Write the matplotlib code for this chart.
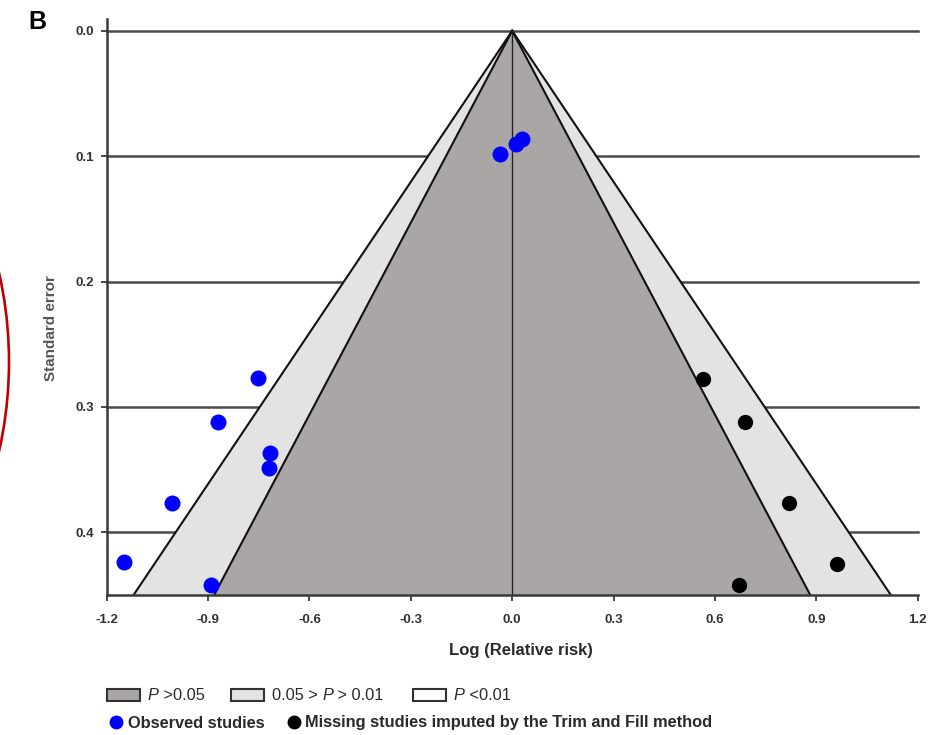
import matplotlib
matplotlib.use('Agg')
import matplotlib.pyplot as plt
from matplotlib.patches import Rectangle, Arc

plt.rcParams['font.family'] = ['Liberation Sans', 'DejaVu Sans']
plt.rcParams['axes.unicode_minus'] = False

# observed studies (log RR, SE)
obs_x = [-0.036, 0.010, 0.028, -0.751, -0.872, -0.717, -0.720, -1.006, -1.148, -0.892]
obs_se = [0.098, 0.090, 0.086, 0.277, 0.312, 0.337, 0.349, 0.377, 0.424, 0.442]
# studies imputed by trim and fill
imp_x = [0.566, 0.689, 0.819, 0.960, 0.671]
imp_se = [0.278, 0.312, 0.377, 0.425, 0.442]

se_max = 0.45
z_inner = 1.96   # P = 0.05 contour
z_outer = 2.49   # P = 0.01 contour
x_ticks = [-1.2, -0.9, -0.6, -0.3, 0.0, 0.3, 0.6, 0.9, 1.2]
y_ticks = [0.0, 0.1, 0.2, 0.3, 0.4]

DARK = '#aaa6a6'
LIGHT = '#e3e3e3'
LINE = '#3a3a3a'
TXT = '#2a2a2a'

W, H = 943, 735
fig = plt.figure(figsize=(W / 100, H / 100), dpi=100)
fig.patch.set_facecolor('white')

# overlay in pixel coordinates for panel letter, labels, legend, red arc
ov = fig.add_axes([0, 0, 1, 1])
ov.set_xlim(0, W)
ov.set_ylim(H, 0)
ov.axis('off')

ax = fig.add_axes([106.7 / W, (H - 595) / H, (917.7 - 106.7) / W, (595 - 19.5) / H])
ax.set_xlim(-1.2, 1.2)
ax.set_ylim(se_max, -0.009)

# horizontal grid lines
for yv in y_ticks:
    ax.plot([-1.2, 1.2], [yv, yv], color='#4a4a4a', lw=1.8, zorder=1, clip_on=False)

# funnel contours
for z, col in [(z_outer, LIGHT), (z_inner, DARK)]:
    ax.fill([0, -z * se_max, z * se_max], [0, se_max, se_max], color=col, zorder=2, lw=0)
for z in [z_outer, z_inner]:
    for s in (-1, 1):
        ax.plot([0, s * z * se_max], [0, se_max], color='#111111', lw=1.5, zorder=3)
ax.plot([0, 0], [0, se_max], color='#222222', lw=1.0, zorder=3)

ax.plot(obs_x, obs_se, 'o', color='#0000ff', ms=11.5, mec='none', zorder=5, clip_on=False)
ax.plot(imp_x, imp_se, 'o', color='black', ms=11, mec='none', zorder=5, clip_on=False)

ax.set_xticks(x_ticks)
ax.set_xticklabels([f"{v:.1f}" for v in x_ticks])
ax.set_yticks(y_ticks)
ax.set_yticklabels([f"{v:.1f}" for v in y_ticks])
ax.tick_params(direction='out', length=4, width=1.3, color=LINE, labelsize=9.5,
               labelcolor='#333333')
ax.tick_params(axis='x', pad=10)
ax.tick_params(axis='y', pad=5)
for lbl in ax.get_xticklabels() + ax.get_yticklabels():
    lbl.set_fontweight('bold')
for sp in ['top', 'right']:
    ax.spines[sp].set_visible(False)
for sp in ['left', 'bottom']:
    ax.spines[sp].set_color(LINE)
    ax.spines[sp].set_linewidth(1.8)
    ax.spines[sp].set_zorder(4)

# axis titles
ov.text(521, 650, "Log (Relative risk)", fontsize=12, fontweight='bold', color=TXT,
        ha='center', va='center')
ov.text(51, 328, "Standard error", fontsize=11, fontweight='bold', color='#555555',
        ha='center', va='center', rotation=90)

# panel letter
ov.text(28, 22, "B", fontsize=18, fontweight='bold', ha='left', va='center')

# red arc from neighbouring panel
R = 406
ov.add_patch(Arc((9 - R, 362), 2 * R, 2 * R, theta1=-20, theta2=20, color='#c00000', lw=1.9))

# legend row 1
r = fig.canvas.get_renderer()
boxes = [(107, DARK, [("P", 'italic'), (" >0.05", 'normal')]),
         (231, LIGHT, [("0.05 > ", 'normal'), ("P", 'italic'), (" > 0.01", 'normal')]),
         (413, 'white', [("P", 'italic'), (" <0.01", 'normal')])]
for x0, col, parts in boxes:
    ov.add_patch(Rectangle((x0, 689), 33, 12, facecolor=col, edgecolor='#333333', lw=1.5))
    tx = x0 + 41
    for txt, style in parts:
        t = ov.text(tx, 695.5, txt, fontsize=11.8, fontstyle=style, ha='left', va='center',
                    color=TXT)
        tx += t.get_window_extent(renderer=r).width

# legend row 2
ov.plot([116], [722], 'o', color='#0000ff', ms=10, mec='none')
ov.text(128, 723, "Observed studies", fontsize=11.8, fontweight='bold', ha='left', va='center',
        color=TXT)
ov.plot([294], [722], 'o', color='black', ms=10, mec='none')
ov.text(305, 723, "Missing studies imputed by the Trim and Fill method", fontsize=11.8,
        fontweight='bold', ha='left', va='center', color=TXT)

fig.savefig('out.png', dpi=100, facecolor='white')
